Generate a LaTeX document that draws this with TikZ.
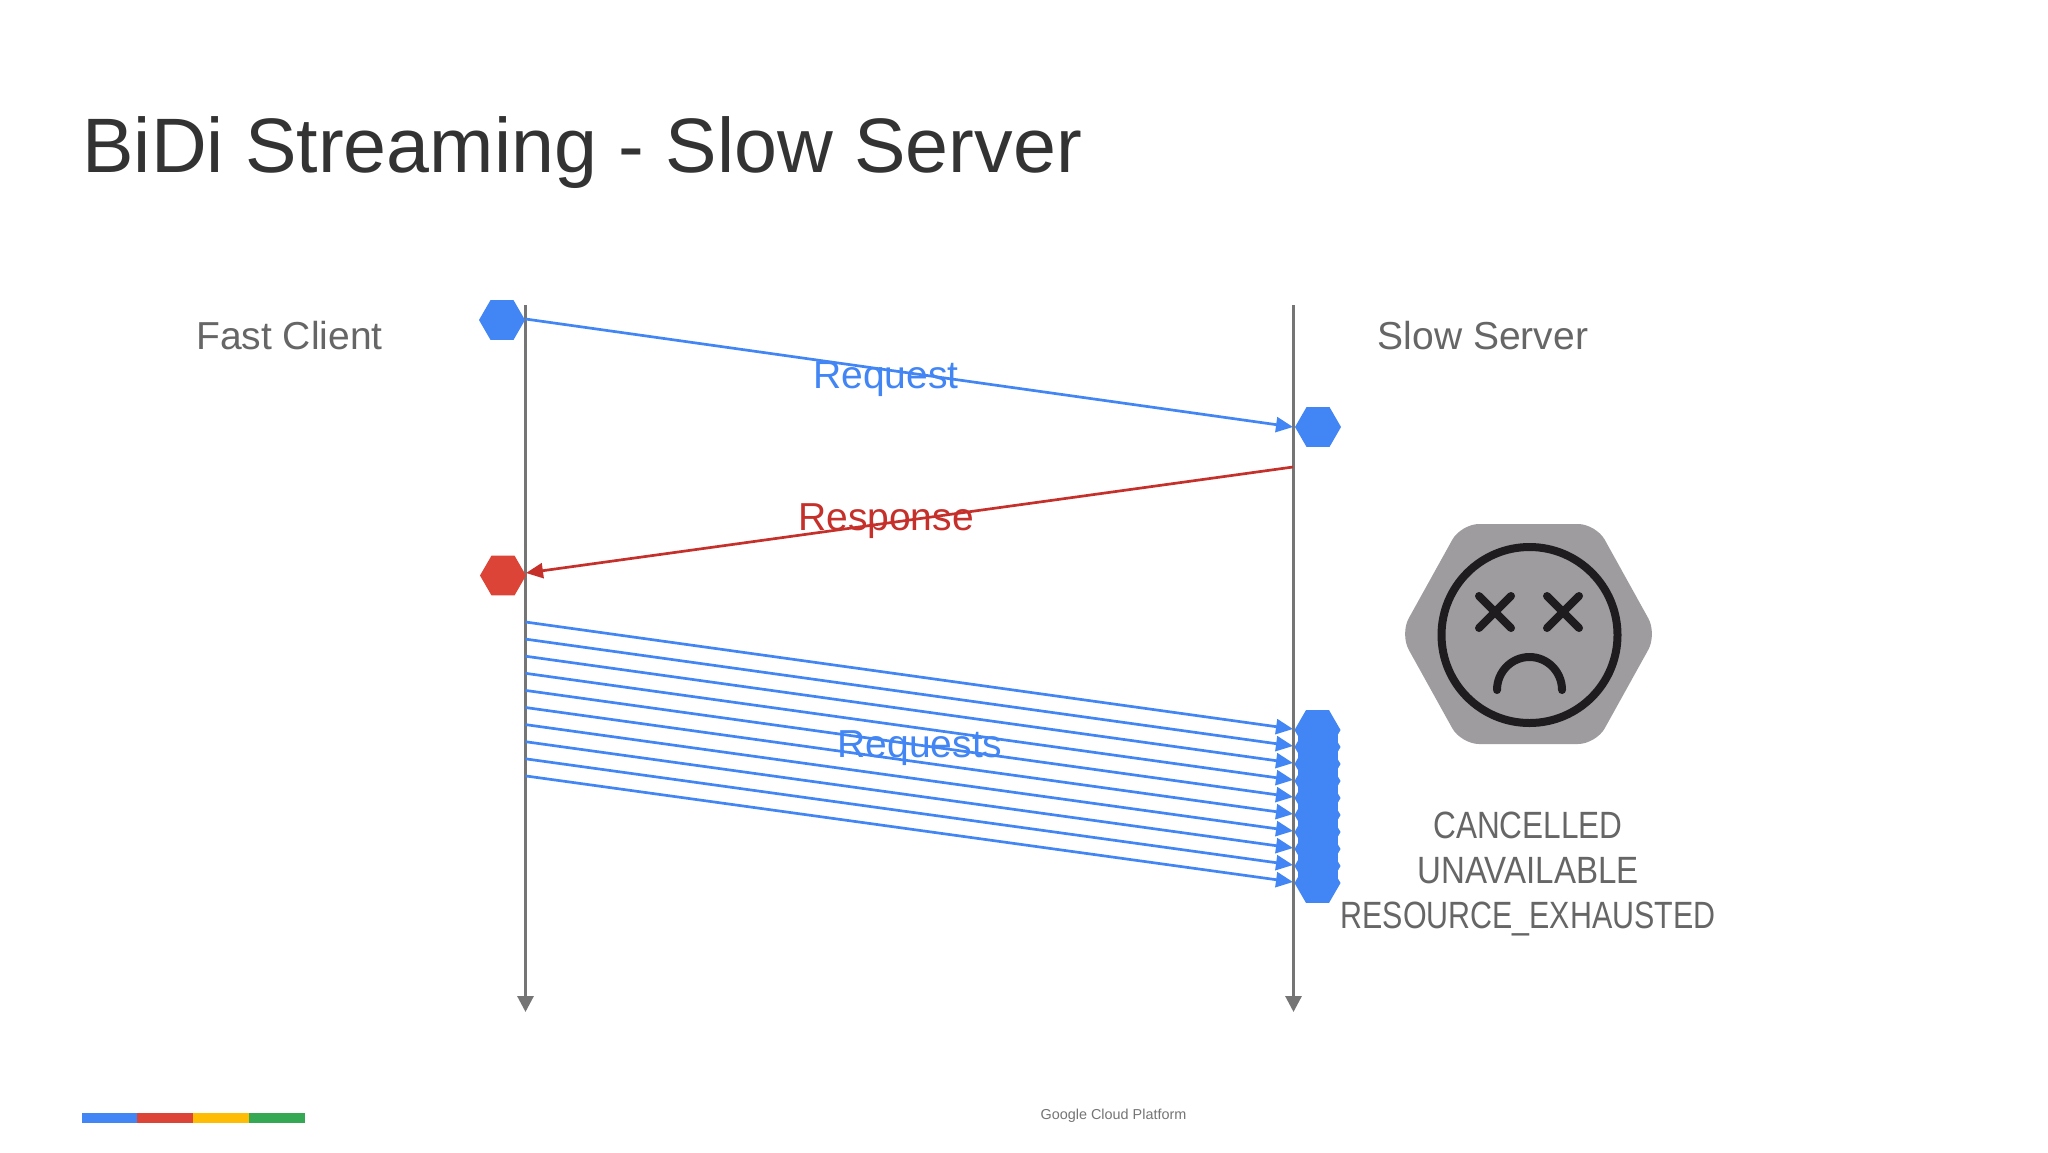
\documentclass[tikz,border=0pt]{standalone}
\usepackage{fontspec}
\setmainfont{Liberation Sans}
\usetikzlibrary{arrows.meta,shapes.geometric}
\definecolor{gblue}{HTML}{4285F4}
\definecolor{gred}{HTML}{DB4437}
\definecolor{lred}{HTML}{C5302B}
\definecolor{gyellow}{HTML}{FFBC05}
\definecolor{ggreen}{HTML}{34A853}
\definecolor{lifegrey}{HTML}{757575}
\definecolor{labelgrey}{HTML}{666666}
\definecolor{titlegrey}{HTML}{333333}
\definecolor{hexgrey}{HTML}{9E9C9E}
\definecolor{facedark}{HTML}{1F1C1F}
\tikzset{
  hexmark/.style={regular polygon,regular polygon sides=6,minimum size=23pt,inner sep=0pt,outer sep=0pt,draw=none,fill=#1},
  lifeline/.style={draw=lifegrey,line width=1.5pt,-{Triangle[length=8pt,width=8pt]}},
  reqline/.style={draw=gblue,line width=1.35pt,-{Triangle[length=8.5pt,width=7.5pt]}},
  respline/.style={draw=lred,line width=1.35pt,-{Triangle[length=8.5pt,width=7.5pt]}},
  lbl/.style={font=\fontsize{19.5}{23}\selectfont,text=labelgrey,inner sep=0pt},
  errlbl/.style={font=\fontsize{19}{23}\selectfont,text=labelgrey,inner sep=0pt},
  msglbl/.style={font=\fontsize{19.5}{23}\selectfont,text=#1,inner sep=0pt},
  facestroke/.style={draw=facedark,line width=4pt,line cap=round},
}
\begin{document}
\begin{tikzpicture}[x=0.5pt,y=-0.5pt]
\useasboundingbox (0,0) rectangle (2048,1152);
\fill[white] (0,0) rectangle (2048,1152);
\node[anchor=west,inner sep=0pt,text=titlegrey,font=\fontsize{38.6}{46}\selectfont] (title) at (82,153) {BiDi Streaming - Slow Server};
\node[lbl] (fast) at (289.5,336) {Fast Client};
\node[lbl] (slow) at (1483,336) {Slow Server};
% lifelines
\coordinate (ltop) at (525.5,305);
\coordinate (lbot) at (525.5,1012);
\coordinate (rtop) at (1293.5,305);
\coordinate (rbot) at (1293.5,1012);
\draw[lifeline] (ltop) -- (lbot);
\draw[lifeline] (rtop) -- (rbot);
% hexes
\node[hexmark=gblue] (h1) at (502,320) {};
\node[hexmark=gred] (h2) at (503,575.5) {};
\node[hexmark=gblue] (h3) at (1318,427) {};
\fill[gblue] (1297.5,730) rectangle (1337.5,883);
\foreach \i in {0,...,9}{
  \node[hexmark=gblue] (b\i) at (1317.5,{730+17*\i}) {};
}
% messages
\coordinate (a1) at (525.5,319);
\coordinate (a2) at (1293,427);
\draw[reqline] (a1) -- (a2);
\coordinate (c1) at (1293,467);
\coordinate (c2) at (526,573);
\draw[respline] (c1) -- (c2);
\foreach \i in {0,...,9}{
  \coordinate (s\i) at (525.5,{622+17.1*\i});
  \coordinate (e\i) at (1293,{729+17*\i});
  \draw[reqline] (s\i) -- (e\i);
}
\node[msglbl=gblue] (req) at (886,379) {Request};
\node[msglbl=lred] (resp) at (886,521) {Response};
\node[msglbl=gblue] (reqs) at (920,748) {Requests};
% sad face
\fill[hexgrey,rounded corners=9pt] (1400,634) -- (1461,524) -- (1596,524) -- (1657,634) -- (1596,744) -- (1461,744) -- cycle;
\draw[facestroke] (1529.5,635) circle (88);
\draw[facestroke] (1479,596) -- (1511,628) (1479,628) -- (1511,596);
\draw[facestroke] (1547,596) -- (1579,628) (1547,628) -- (1579,596);
\draw[facestroke] (1497,690) arc[start angle=180,end angle=360,x radius=32.5,y radius=33];
% error text
\node[errlbl] (e1) at (1528,825) {\scalebox{0.83}[1]{CANCELLED}};
\node[errlbl] (e2) at (1528,871) {\scalebox{0.87}[1]{UNAVAILABLE}};
\node[errlbl] (e3) at (1528,919) {\scalebox{0.80}[1]{RESOURCE\_EXHAUSTED}};
% footer
\fill[gblue] (82,1113) rectangle (137,1123);
\fill[gred] (137,1113) rectangle (193,1123);
\fill[gyellow] (193,1113) rectangle (249,1123);
\fill[ggreen] (249,1113) rectangle (305,1123);
\node[inner sep=0pt,text=lifegrey,font=\fontsize{7.2}{9}\selectfont] (foot) at (1113.5,1116) {Google Cloud Platform};
\end{tikzpicture}
\end{document}
